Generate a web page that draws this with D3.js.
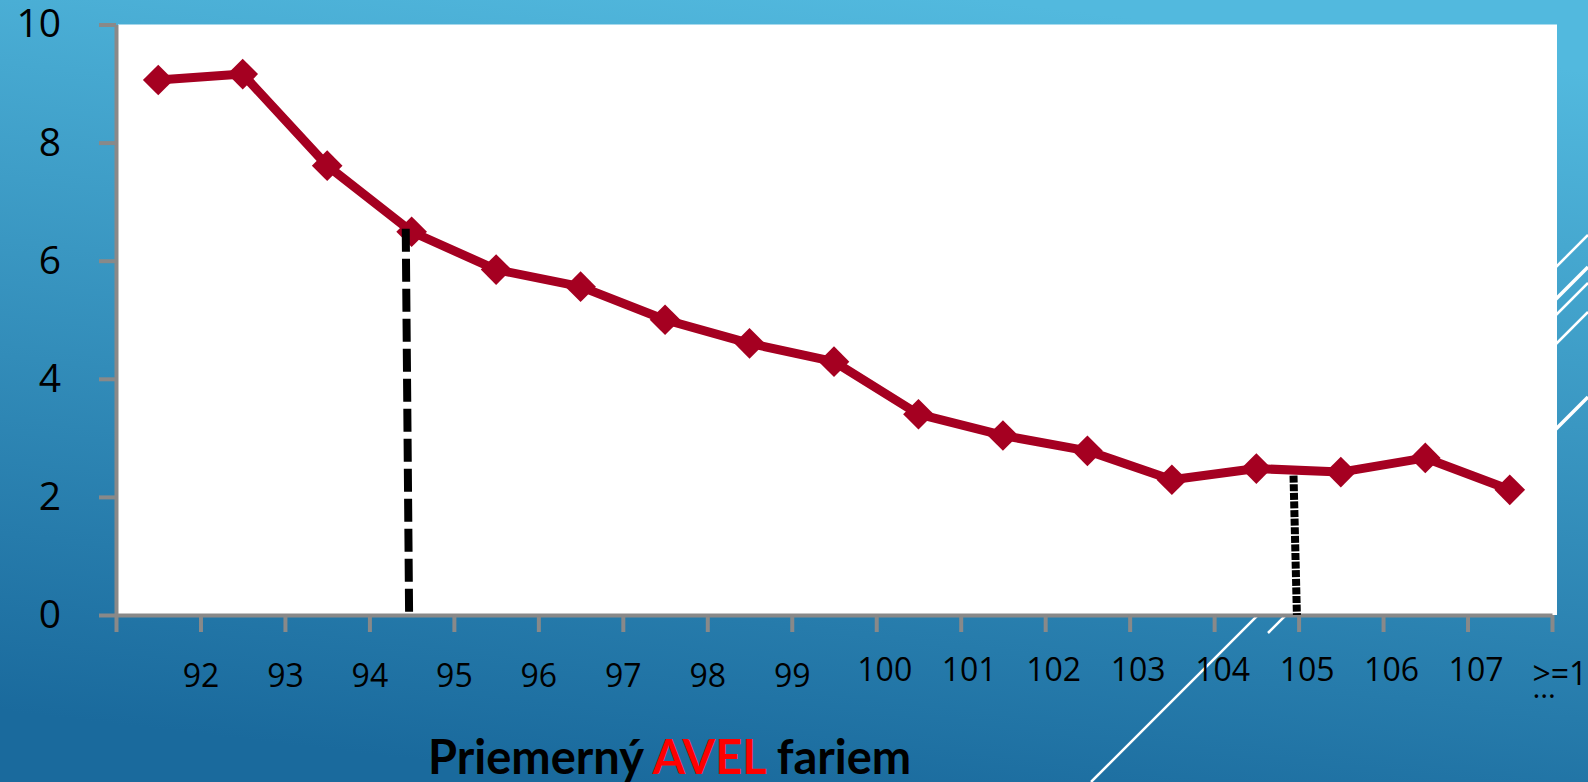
<!DOCTYPE html>
<html>
<head>
<meta charset="utf-8">
<script src="https://cdn.jsdelivr.net/npm/d3@7"></script>
<style>
  body { margin: 0; overflow: hidden; }
</style>
</head>
<body>
<div id="chart"></div>
<script>
// DATA
var tickLabels = ["92", "93", "94", "95", "96", "97", "98", "99", "100", "101",
                  "102", "103", "104", "105", "106", "107", ">=1…"];
var values = [9.06, 9.16, 7.61, 6.49, 5.85, 5.56, 5.00, 4.60, 4.29, 3.40,
              3.04, 2.78, 2.29, 2.48, 2.42, 2.66, 2.12];
var yTicks = [0, 2, 4, 6, 8, 10];
// CUT-OFF MARKERS (x in category units: top, bottom; y = value at top)
var cutX = [[3.43, 3.47], [13.94, 13.98]];
var cutTop = [6.54, 2.36];
var titleParts = ["Priemerný ", "AVEL", " fariem"];

// SIZES
width = 1588,
height = 782;

svg = d3.select("#chart")
          .append("svg")
            .attr("width", width)
            .attr("height", height);

// BACKGROUND GRADIENT
grad = svg.append("defs")
          .append("linearGradient")
            .attr("id", "bg")
            .attr("x1", "0.62").attr("y1", "0")
            .attr("x2", "0.38").attr("y2", "1");
grad.append("stop").attr("offset", "0").attr("stop-color", "#52b9de");
grad.append("stop").attr("offset", "1").attr("stop-color", "#1a6a9d");

svg.append("rect")
    .attr("width", width)
    .attr("height", height)
    .attr("fill", "url(#bg)");

// DECORATIVE WHITE STRIPES
deco = [[1091, 782, 1320, 553, 2.5],
        [1268, 633, 1320, 581, 2.5],
        [1588, 235, 1530, 293, 2.5],
        [1588, 267, 1530, 325, 3.5],
        [1588, 283, 1530, 341, 2.5],
        [1588, 312, 1530, 370, 2.5],
        [1588, 397, 1530, 455, 3.5]];
svg.selectAll("line.deco")
    .data(deco)
    .enter()
    .append("line")
      .attr("class", "deco")
      .attr("x1", d => d[0]).attr("y1", d => d[1])
      .attr("x2", d => d[2]).attr("y2", d => d[3])
      .attr("stroke", "#ffffff")
      .attr("stroke-width", d => d[4]);

// SCALES
x = d3.scaleLinear()
      .domain([0, values.length])
      .range([116, 1552]);

y = d3.scaleLinear()
      .domain([0, 10])
      .range([615, 24.5]);

// PLOT AREA
svg.append("rect")
    .attr("x", 118)
    .attr("y", y(10))
    .attr("width", 1557 - 118)
    .attr("height", y(0) - y(10))
    .attr("fill", "#ffffff");

// Y-AXIS
yAxis = svg.append("g")
            .attr("transform", "translate(" + x(0) + ",0)")
            .call(d3.axisLeft(y).tickValues(yTicks).tickSize(17).tickSizeOuter(0).tickPadding(38));

yAxis.selectAll("path, line")
      .attr("stroke", "#898989")
      .attr("stroke-width", 4);
yAxis.selectAll("text")
      .attr("font-family", "Open Sans")
      .attr("font-size", 39)
      .attr("fill", "#000");

// X-AXIS
xAxis = svg.append("g")
            .attr("transform", "translate(0," + y(0) + ")")
            .call(d3.axisBottom(x)
                    .tickValues(d3.range(0, values.length + 1))
                    .tickSize(17).tickSizeOuter(0).tickPadding(32)
                    .tickFormat(function(i) { return i ? tickLabels[i - 1] : ""; }));

xAxis.selectAll("path, line")
      .attr("stroke", "#898989")
      .attr("stroke-width", 4);
xAxis.selectAll("text")
      .attr("font-family", "Open Sans")
      .attr("font-size", 32)
      .attr("fill", "#000")
      .each(function(d) {
          t = d3.select(this);
          lab = t.text();
          if (d === values.length) {
              // last label wraps, only the dots of line two show
              t.text(null)
               .attr("text-anchor", "start")
               .attr("transform", "translate(-20,-2)");
              t.append("tspan").text(lab.slice(0, -1));
              t.append("tspan").attr("x", 0).attr("dy", 13).attr("font-size", 30).text(lab.slice(-1));
          } else if (lab.length === 3) {
              t.attr("transform", "translate(8,-6)");
          }
      });

// LINE
line = d3.line()
          .x(function(d, i) { return x(i + 0.5); })
          .y(function(d) { return y(d); });

svg.append("path")
    .datum(values)
    .attr("d", line)
    .attr("fill", "none")
    .attr("stroke", "#a50021")
    .attr("stroke-width", 9)
    .attr("stroke-linejoin", "round");

// DIAMOND MARKERS
svg.selectAll("path.marker")
    .data(values)
    .enter()
    .append("path")
      .attr("class", "marker")
      .attr("d", d3.symbol(d3.symbolSquare, 470))
      .attr("transform", function(d, i) { return "translate(" + x(i + 0.5) + "," + y(d) + ") rotate(45)"; })
      .attr("fill", "#a50021");

// CUT-OFF LINES
dashes = ["23,7", "7,1.6"];
svg.selectAll("line.cut")
    .data(cutX)
    .enter()
    .append("line")
      .attr("class", "cut")
      .attr("x1", d => x(d[0]))
      .attr("y1", (d, i) => y(cutTop[i]))
      .attr("x2", d => x(d[1]))
      .attr("y2", y(0))
      .attr("stroke", "#000")
      .attr("stroke-width", 8)
      .attr("stroke-dasharray", (d, i) => dashes[i]);

// TITLE
title = svg.append("text")
            .attr("x", 428)
            .attr("y", 774)
            .attr("font-family", "Lato")
            .attr("font-weight", "bold")
            .attr("font-size", 47);

title.selectAll("tspan")
      .data(titleParts)
      .enter()
      .append("tspan")
        .attr("fill", (d, i) => i === 1 ? "#ff0000" : "#000")
        .text(d => d);
</script>
</body>
</html>
